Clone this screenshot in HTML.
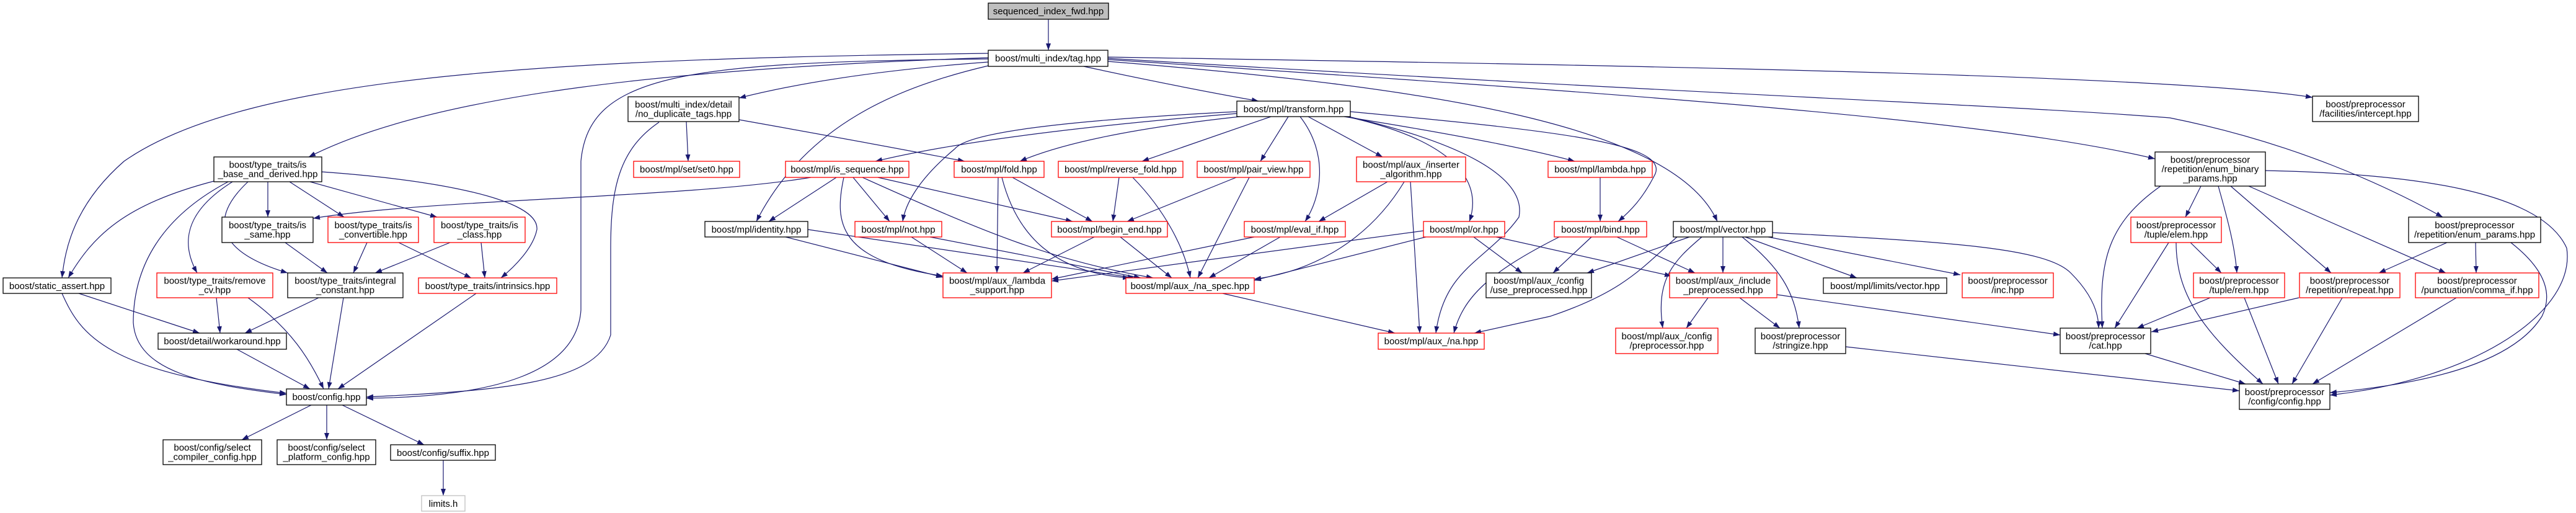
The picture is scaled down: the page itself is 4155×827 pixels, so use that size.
<!DOCTYPE html>
<html><head><meta charset="utf-8"><style>
html,body{margin:0;padding:0;background:#fff;}
svg{display:block;}
text{font-family:"Liberation Sans",sans-serif;font-size:15px;fill:#000;text-anchor:middle;}
.e{fill:none;stroke:#191970;stroke-width:1.2;marker-end:url(#a);}
.n{fill:#fff;stroke:#000;stroke-width:1.3;}
.r{fill:#fff;stroke:#ff0000;stroke-width:1.3;}
</style></head><body>
<svg width="4155" height="827" viewBox="0 0 4155 827" xmlns="http://www.w3.org/2000/svg">
<defs><marker id="a" markerUnits="userSpaceOnUse" markerWidth="11" markerHeight="8" refX="11" refY="4" orient="auto"><path d="M0,0 L11,4 L0,8 z" fill="#191970"/></marker></defs>
<g>
<path class="e" d="M1691 31 L1691 81"/>
<path class="e" d="M1748 107 Q1900 140 2030 163"/>
<path class="e" d="M1594 100 Q1350 118 1192 158"/>
<path class="e" d="M1594 93 C1100 110 700 150 498 253"/>
<path class="e" d="M1594 86 C900 95 400 120 200 260 C120 330 105 400 100 448"/>
<path class="e" d="M1594 95 C1100 100 950 120 937 260 L937 500 C930 600 800 640 591 642"/>
<path class="e" d="M1594 106 C1450 140 1300 200 1220 357"/>
<path class="e" d="M1787 99 C2300 140 2700 200 2770 357"/>
<path class="e" d="M1787 96 C2600 150 3200 190 3476 256"/>
<path class="e" d="M1787 94 C2700 150 3250 170 3500 190 C3700 230 3850 300 3940 350"/>
<path class="e" d="M1787 92 C2600 105 3500 120 3730 157"/>
<path class="e" d="M1995 183 Q1600 215 1412 260"/>
<path class="e" d="M2000 188 Q1750 215 1645 260"/>
<path class="e" d="M2050 188 L1842 260"/>
<path class="e" d="M2078 188 L2033 260"/>
<path class="e" d="M2110 188 L2230 253"/>
<path class="e" d="M2168 188 Q2430 230 2540 260"/>
<path class="e" d="M1995 180 C1700 195 1560 215 1540 240 C1480 290 1460 330 1456 357"/>
<path class="e" d="M2097 188 C2145 250 2130 320 2105 357"/>
<path class="e" d="M2172 188 C2360 230 2390 300 2370 357"/>
<path class="e" d="M2178 180 C2500 210 2690 230 2670 280 C2650 320 2630 340 2610 357"/>
<path class="e" d="M2175 188 C2400 240 2460 300 2450 350 C2400 420 2330 430 2316 537"/>
<path class="e" d="M1107 196 L1110 260"/>
<path class="e" d="M1192 193 Q1400 230 1556 260"/>
<path class="e" d="M1063 197 C1000 240 985 300 985 400 L985 540 C960 620 800 630 591 640"/>
<path class="e" d="M432 293 L432 350"/>
<path class="e" d="M467 293 L555 350"/>
<path class="e" d="M500 293 L705 350"/>
<path class="e" d="M519 277 C700 290 870 320 866 370 C860 400 830 430 808 448"/>
<path class="e" d="M400 293 C350 340 330 400 464 440"/>
<path class="e" d="M375 293 C300 340 290 390 318 440"/>
<path class="e" d="M345 292 C200 330 150 380 110 448"/>
<path class="e" d="M368 293 C260 350 215 430 215 520 C220 600 330 620 462 636"/>
<path class="e" d="M460 391 L528 440"/>
<path class="e" d="M592 391 L570 440"/>
<path class="e" d="M643 391 L760 448"/>
<path class="e" d="M726 391 L605 440"/>
<path class="e" d="M776 391 L782 448"/>
<path class="e" d="M127 473 L322 537"/>
<path class="e" d="M100 473 C130 540 170 600 462 634"/>
<path class="e" d="M349 480 L355 537"/>
<path class="e" d="M400 480 C470 530 500 580 522 627"/>
<path class="e" d="M514 480 L395 537"/>
<path class="e" d="M554 480 L530 627"/>
<path class="e" d="M768 473 L545 627"/>
<path class="e" d="M382 563 L500 627"/>
<path class="e" d="M502 653 L390 709"/>
<path class="e" d="M527 653 L527 709"/>
<path class="e" d="M552 653 L684 717"/>
<path class="e" d="M715 742 L715 799"/>
<path class="e" d="M1308 286 C1100 320 700 320 505 352"/>
<path class="e" d="M1349 286 L1240 357"/>
<path class="e" d="M1376 286 L1435 357"/>
<path class="e" d="M1416 286 L1730 357"/>
<path class="e" d="M1361 286 C1345 360 1352 420 1521 445"/>
<path class="e" d="M1391 286 C1600 380 1700 420 1860 448"/>
<path class="e" d="M1267 382 L1521 447"/>
<path class="e" d="M1303 370 L1830 448"/>
<path class="e" d="M1610 286 L1608 440"/>
<path class="e" d="M1633 286 L1762 357"/>
<path class="e" d="M1616 286 C1640 380 1700 440 1822 448"/>
<path class="e" d="M1805 286 L1795 357"/>
<path class="e" d="M1827 286 C1880 340 1910 400 1920 448"/>
<path class="e" d="M1994 286 L1818 357"/>
<path class="e" d="M2015 286 L1932 448"/>
<path class="e" d="M2238 293 L2127 357"/>
<path class="e" d="M2265 293 C2200 400 2100 440 2023 450"/>
<path class="e" d="M2275 293 L2290 537"/>
<path class="e" d="M2581 286 L2581 357"/>
<path class="e" d="M1470 382 L1560 440"/>
<path class="e" d="M1500 382 L1840 448"/>
<path class="e" d="M1765 382 L1650 440"/>
<path class="e" d="M1807 382 L1890 448"/>
<path class="e" d="M2023 382 L1696 450"/>
<path class="e" d="M2065 382 L1950 448"/>
<path class="e" d="M2296 372 L1696 453"/>
<path class="e" d="M2300 382 L2023 452"/>
<path class="e" d="M2377 382 L2455 440"/>
<path class="e" d="M2413 382 L2696 445"/>
<path class="e" d="M2515 382 C2400 440 2360 480 2345 537"/>
<path class="e" d="M2567 382 L2505 440"/>
<path class="e" d="M2608 382 L2734 440"/>
<path class="e" d="M2705 382 C2650 430 2620 470 2500 510 L2378 537"/>
<path class="e" d="M2725 382 L2560 440"/>
<path class="e" d="M2779 382 L2779 440"/>
<path class="e" d="M2745 382 C2700 420 2670 450 2682 529"/>
<path class="e" d="M2815 382 L2995 448"/>
<path class="e" d="M2852 382 L3162 443"/>
<path class="e" d="M2810 382 C2870 430 2895 470 2902 529"/>
<path class="e" d="M2859 375 C3150 390 3300 400 3340 440 C3370 470 3385 500 3385 529"/>
<path class="e" d="M2755 480 L2720 529"/>
<path class="e" d="M2806 480 L2871 529"/>
<path class="e" d="M2866 475 L3323 540"/>
<path class="e" d="M1972 473 L2250 537"/>
<path class="e" d="M2977 559 L3612 630"/>
<path class="e" d="M3460 570 L3622 619"/>
<path class="e" d="M3550 300 L3525 350"/>
<path class="e" d="M3485 300 C3400 360 3385 420 3391 529"/>
<path class="e" d="M3578 300 C3595 360 3605 400 3608 440"/>
<path class="e" d="M3598 300 L3760 440"/>
<path class="e" d="M3627 300 L3945 440"/>
<path class="e" d="M3654 275 C3900 280 4100 310 4140 400 C4155 500 4000 610 3758 637"/>
<path class="e" d="M3947 391 L3837 440"/>
<path class="e" d="M3993 391 L3994 440"/>
<path class="e" d="M4050 391 C4100 430 4120 470 4100 510 C4050 590 3900 620 3758 633"/>
<path class="e" d="M3498 391 L3411 529"/>
<path class="e" d="M3533 391 L3583 440"/>
<path class="e" d="M3510 391 C3510 480 3560 540 3650 619"/>
<path class="e" d="M3565 480 L3447 529"/>
<path class="e" d="M3620 480 L3675 619"/>
<path class="e" d="M3708 480 L3470 535"/>
<path class="e" d="M3778 480 L3697 619"/>
<path class="e" d="M3962 480 L3730 619"/>
</g>
<g>
<rect x="1594" y="5" width="194" height="26" fill="#bfbfbf" stroke="#000" stroke-width="1.3"/><text x="1691" y="23">sequenced_index_fwd.hpp</text>
<rect class="n" x="1594" y="81" width="193" height="26"/><text x="1690.5" y="99">boost/multi_index/tag.hpp</text>
<rect class="n" x="1013" y="156" width="179" height="40"/><text x="1102.5" y="173.5">boost/multi_index/detail</text><text x="1102.5" y="188.5">/no_duplicate_tags.hpp</text>
<rect class="r" x="1022" y="260" width="171" height="26"/><text x="1107.5" y="278">boost/mpl/set/set0.hpp</text>
<rect class="r" x="1267" y="260" width="199" height="26"/><text x="1366.5" y="278">boost/mpl/is_sequence.hpp</text>
<rect class="n" x="345" y="253" width="174" height="40"/><text x="432" y="270.5">boost/type_traits/is</text><text x="432" y="285.5">_base_and_derived.hpp</text>
<rect class="n" x="358" y="350" width="147" height="41"/><text x="431.5" y="368">boost/type_traits/is</text><text x="431.5" y="383">_same.hpp</text>
<rect class="r" x="529" y="350" width="146" height="41"/><text x="602" y="368">boost/type_traits/is</text><text x="602" y="383">_convertible.hpp</text>
<rect class="r" x="700" y="350" width="147" height="41"/><text x="773.5" y="368">boost/type_traits/is</text><text x="773.5" y="383">_class.hpp</text>
<rect class="n" x="1137" y="357" width="166" height="25"/><text x="1220" y="375">boost/mpl/identity.hpp</text>
<rect class="n" x="5" y="448" width="174" height="25"/><text x="92" y="466">boost/static_assert.hpp</text>
<rect class="r" x="253" y="440" width="187" height="40"/><text x="346.5" y="457.5">boost/type_traits/remove</text><text x="346.5" y="472.5">_cv.hpp</text>
<rect class="n" x="464" y="440" width="186" height="40"/><text x="557" y="457.5">boost/type_traits/integral</text><text x="557" y="472.5">_constant.hpp</text>
<rect class="r" x="675" y="448" width="223" height="25"/><text x="786.5" y="466">boost/type_traits/intrinsics.hpp</text>
<rect class="n" x="255" y="537" width="207" height="26"/><text x="358.5" y="555">boost/detail/workaround.hpp</text>
<rect class="n" x="462" y="627" width="129" height="26"/><text x="526.5" y="645">boost/config.hpp</text>
<rect class="n" x="263" y="709" width="159" height="40"/><text x="342.5" y="726.5">boost/config/select</text><text x="342.5" y="741.5">_compiler_config.hpp</text>
<rect class="n" x="447" y="709" width="159" height="40"/><text x="526.5" y="726.5">boost/config/select</text><text x="526.5" y="741.5">_platform_config.hpp</text>
<rect class="n" x="630" y="717" width="169" height="25"/><text x="714.5" y="735">boost/config/suffix.hpp</text>
<rect x="680" y="799" width="70" height="25" fill="#fff" stroke="#bfbfbf" stroke-width="1.3"/><text x="715" y="817">limits.h</text>
<rect class="n" x="1995" y="163" width="183" height="25"/><text x="2086.5" y="181">boost/mpl/transform.hpp</text>
<rect class="r" x="1539" y="260" width="145" height="26"/><text x="1611.5" y="278">boost/mpl/fold.hpp</text>
<rect class="r" x="1707" y="260" width="201" height="26"/><text x="1807.5" y="278">boost/mpl/reverse_fold.hpp</text>
<rect class="r" x="1931" y="260" width="182" height="26"/><text x="2022" y="278">boost/mpl/pair_view.hpp</text>
<rect class="r" x="2188" y="253" width="176" height="40"/><text x="2276" y="270.5">boost/mpl/aux_/inserter</text><text x="2276" y="285.5">_algorithm.hpp</text>
<rect class="r" x="2497" y="260" width="168" height="26"/><text x="2581" y="278">boost/mpl/lambda.hpp</text>
<rect class="r" x="1379" y="357" width="140" height="25"/><text x="1449" y="375">boost/mpl/not.hpp</text>
<rect class="r" x="1696" y="357" width="187" height="25"/><text x="1789.5" y="375">boost/mpl/begin_end.hpp</text>
<rect class="r" x="2007" y="357" width="163" height="25"/><text x="2088.5" y="375">boost/mpl/eval_if.hpp</text>
<rect class="r" x="2296" y="357" width="131" height="25"/><text x="2361.5" y="375">boost/mpl/or.hpp</text>
<rect class="r" x="2507" y="357" width="149" height="25"/><text x="2581.5" y="375">boost/mpl/bind.hpp</text>
<rect class="n" x="2699" y="357" width="160" height="25"/><text x="2779" y="375">boost/mpl/vector.hpp</text>
<rect class="r" x="1521" y="440" width="175" height="40"/><text x="1608.5" y="457.5">boost/mpl/aux_/lambda</text><text x="1608.5" y="472.5">_support.hpp</text>
<rect class="r" x="1816" y="448" width="207" height="25"/><text x="1919.5" y="466">boost/mpl/aux_/na_spec.hpp</text>
<rect class="n" x="2397" y="440" width="170" height="40"/><text x="2482" y="457.5">boost/mpl/aux_/config</text><text x="2482" y="472.5">/use_preprocessed.hpp</text>
<rect class="r" x="2693" y="440" width="173" height="40"/><text x="2779.5" y="457.5">boost/mpl/aux_/include</text><text x="2779.5" y="472.5">_preprocessed.hpp</text>
<rect class="r" x="2223" y="537" width="171" height="26"/><text x="2308.5" y="555">boost/mpl/aux_/na.hpp</text>
<rect class="r" x="2606" y="529" width="165" height="41"/><text x="2688.5" y="547">boost/mpl/aux_/config</text><text x="2688.5" y="562">/preprocessor.hpp</text>
<rect class="n" x="3730" y="155" width="171" height="41"/><text x="3815.5" y="173">boost/preprocessor</text><text x="3815.5" y="188">/facilities/intercept.hpp</text>
<rect class="n" x="3476" y="245" width="178" height="55"/><text x="3565" y="262.5">boost/preprocessor</text><text x="3565" y="277.5">/repetition/enum_binary</text><text x="3565" y="292.5">_params.hpp</text>
<rect class="n" x="3885" y="350" width="213" height="41"/><text x="3991.5" y="368">boost/preprocessor</text><text x="3991.5" y="383">/repetition/enum_params.hpp</text>
<rect class="r" x="3437" y="350" width="146" height="41"/><text x="3510" y="368">boost/preprocessor</text><text x="3510" y="383">/tuple/elem.hpp</text>
<rect class="n" x="2941" y="448" width="199" height="25"/><text x="3040.5" y="466">boost/mpl/limits/vector.hpp</text>
<rect class="r" x="3165" y="440" width="147" height="40"/><text x="3238.5" y="457.5">boost/preprocessor</text><text x="3238.5" y="472.5">/inc.hpp</text>
<rect class="r" x="3538" y="440" width="147" height="40"/><text x="3611.5" y="457.5">boost/preprocessor</text><text x="3611.5" y="472.5">/tuple/rem.hpp</text>
<rect class="r" x="3709" y="440" width="162" height="40"/><text x="3790" y="457.5">boost/preprocessor</text><text x="3790" y="472.5">/repetition/repeat.hpp</text>
<rect class="r" x="3896" y="440" width="199" height="40"/><text x="3995.5" y="457.5">boost/preprocessor</text><text x="3995.5" y="472.5">/punctuation/comma_if.hpp</text>
<rect class="n" x="2831" y="529" width="146" height="41"/><text x="2904" y="547">boost/preprocessor</text><text x="2904" y="562">/stringize.hpp</text>
<rect class="n" x="3323" y="529" width="146" height="41"/><text x="3396" y="547">boost/preprocessor</text><text x="3396" y="562">/cat.hpp</text>
<rect class="n" x="3612" y="619" width="146" height="41"/><text x="3685" y="637">boost/preprocessor</text><text x="3685" y="652">/config/config.hpp</text>
</g>
</svg>
</body></html>
